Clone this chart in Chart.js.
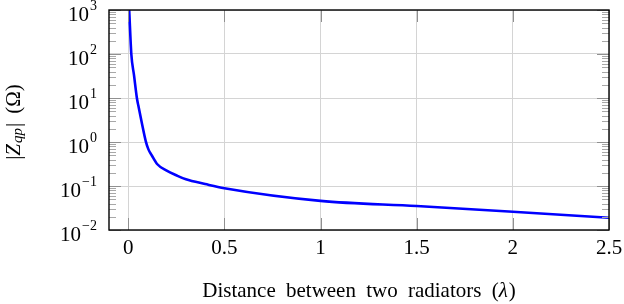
<!DOCTYPE html>
<html>
<head>
<meta charset="utf-8">
<script src="https://cdn.jsdelivr.net/npm/chart.js@4"></script>
<style>
  html, body { margin: 0; padding: 0; background: #fff; }
  #wrap { width: 624px; height: 304px; }
</style>
</head>
<body>
<div id="wrap"><canvas id="zChart"></canvas></div>
<script>
// distance between radiators (in wavelengths) and |Zqp| (Ohm)
const distances = [0.005, 0.016, 0.03, 0.045, 0.052, 0.07, 0.091, 0.105, 0.122, 0.15, 0.2, 0.25, 0.3, 0.4, 0.5, 1, 1.5, 2, 2.5];
const zqp = [1000, 100, 33, 10, 6.9, 2.8, 1.05, 0.68, 0.5, 0.316, 0.223, 0.175, 0.142, 0.111, 0.089, 0.046, 0.035, 0.026, 0.019];

const xTicks = [0, 0.5, 1, 1.5, 2, 2.5];
const xTickLabels = ['0', '0.5', '1', '1.5', '2', '2.5'];
const yTicks = [0.01, 0.1, 1, 10, 100, 1000];
const yExponents = ['\u22122', '\u22121', '0', '1', '2', '3'];

const serif = '"Liberation Serif", "DejaVu Serif", serif';

// frame, inner ticks, y tick labels, axis titles
const framePlugin = {
  id: 'frame',
  afterDraw(chart) {
    const ctx = chart.ctx;
    const a = chart.chartArea;
    const xs = chart.scales.x, ys = chart.scales.y;
    ctx.save();

    // minor ticks on left / right edges
    ctx.strokeStyle = '#a8a8a8';
    ctx.lineWidth = 1;
    for (let d = 0; d < yTicks.length - 1; d++) {
      for (let k = 2; k <= 9; k++) {
        const py = Math.round(ys.getPixelForValue(yTicks[d] * k)) + 0.5;
        ctx.beginPath();
        ctx.moveTo(a.left, py); ctx.lineTo(a.left + 7, py);
        ctx.moveTo(a.right, py); ctx.lineTo(a.right - 7, py);
        ctx.stroke();
      }
    }
    // major ticks inside
    ctx.strokeStyle = '#909090';
    yTicks.forEach(v => {
      const py = Math.round(ys.getPixelForValue(v)) + 0.5;
      ctx.beginPath();
      ctx.moveTo(a.left, py); ctx.lineTo(a.left + 12, py);
      ctx.moveTo(a.right, py); ctx.lineTo(a.right - 12, py);
      ctx.stroke();
    });
    xTicks.forEach(v => {
      const px = Math.round(xs.getPixelForValue(v)) + 0.5;
      ctx.beginPath();
      ctx.moveTo(px, a.bottom); ctx.lineTo(px, a.bottom - 12);
      ctx.moveTo(px, a.top); ctx.lineTo(px, a.top + 12);
      ctx.stroke();
    });

    // frame
    ctx.strokeStyle = '#000';
    ctx.lineWidth = 1.4;
    ctx.strokeRect(a.left, a.top, a.right - a.left, a.bottom - a.top);

    ctx.fillStyle = '#000';
    ctx.textBaseline = 'middle';

    // y tick labels 10^n
    yTicks.forEach((v, i) => {
      const py = ys.getPixelForValue(v);
      ctx.textAlign = 'right';
      ctx.font = '14px ' + serif;
      const ew = ctx.measureText(yExponents[i]).width;
      ctx.fillText(yExponents[i], 97, py - 4);
      ctx.font = '21px ' + serif;
      ctx.fillText('10', 97 - ew - 1, py + 5);
    });
    ctx.textAlign = 'left';

    // x title
    const xt1 = 'Distance between two radiators (';
    const xt2 = '\u03BB';
    const xt3 = ')';
    ctx.wordSpacing = '5px';
    ctx.font = '21px ' + serif;
    const w1 = ctx.measureText(xt1).width, w3 = ctx.measureText(xt3).width;
    ctx.font = 'italic 21px ' + serif;
    const w2 = ctx.measureText(xt2).width + 1;
    const x0 = (a.left + a.right) / 2 - (w1 + w2 + w3) / 2;
    const ty = 291;
    ctx.font = '21px ' + serif;
    ctx.fillText(xt1, x0, ty);
    ctx.font = 'italic 21px ' + serif;
    ctx.fillText(xt2, x0 + w1, ty);
    ctx.font = '21px ' + serif;
    ctx.fillText(xt3, x0 + w1 + w2, ty);
    ctx.wordSpacing = '0px';

    // y title: |Z_qp| (Ω)
    ctx.translate(14, 122);
    ctx.rotate(-Math.PI / 2);
    const parts = [
      { t: '|', f: '21px ' + serif, dy: 0, gap: 0 },
      { t: 'Z', f: 'italic 21px ' + serif, dy: 0, gap: 1 },
      { t: 'qp', f: 'italic 15px ' + serif, dy: 4, gap: 1 },
      { t: '|', f: '21px ' + serif, dy: 0, gap: 9 },
      { t: '(\u03A9)', f: '21px ' + serif, dy: 0, gap: 0 }
    ];
    let total = 0;
    parts.forEach(p => { ctx.font = p.f; p.w = ctx.measureText(p.t).width + p.gap; total += p.w; });
    let cx = -total / 2;
    parts.forEach(p => { ctx.font = p.f; ctx.fillText(p.t, cx, p.dy); cx += p.w; });
    ctx.restore();
  }
};

new Chart(document.getElementById('zChart'), {
  type: 'line',
  data: {
    datasets: [{
      data: distances.map((d, i) => ({ x: d, y: zqp[i] })),
      borderColor: '#0000ff',
      borderWidth: 2.6,
      pointRadius: 0,
      cubicInterpolationMode: 'monotone',
      fill: false,
      clip: 0
    }]
  },
  options: {
    responsive: true,
    maintainAspectRatio: false,
    animation: false,
    layout: { padding: { top: 10, right: 15, left: 0, bottom: 0 } },
    plugins: { legend: { display: false }, tooltip: { enabled: false } },
    scales: {
      x: {
        type: 'linear',
        min: -0.1,
        max: 2.5,
        afterBuildTicks: s => { s.ticks = xTicks.map(v => ({ value: v })); },
        afterFit: s => { s.height = 74; s.paddingLeft = 0; s.paddingRight = 0; },
        grid: { color: '#d4d4d4', lineWidth: 1, tickLength: 0, drawTicks: false },
        border: { display: false },
        ticks: {
          color: '#000',
          padding: 6,
          maxRotation: 0,
          autoSkip: false,
          font: { family: serif, size: 21 },
          callback: v => xTickLabels[xTicks.indexOf(v)]
        }
      },
      y: {
        type: 'logarithmic',
        min: 0.01,
        max: 1000,
        afterBuildTicks: s => { s.ticks = yTicks.map(v => ({ value: v })); },
        afterFit: s => { s.width = 109; s.paddingTop = 0; s.paddingBottom = 0; },
        grid: { color: '#d4d4d4', lineWidth: 1, tickLength: 0, drawTicks: false },
        border: { display: false },
        ticks: { display: false }
      }
    }
  },
  plugins: [framePlugin]
});
</script>
</body>
</html>
